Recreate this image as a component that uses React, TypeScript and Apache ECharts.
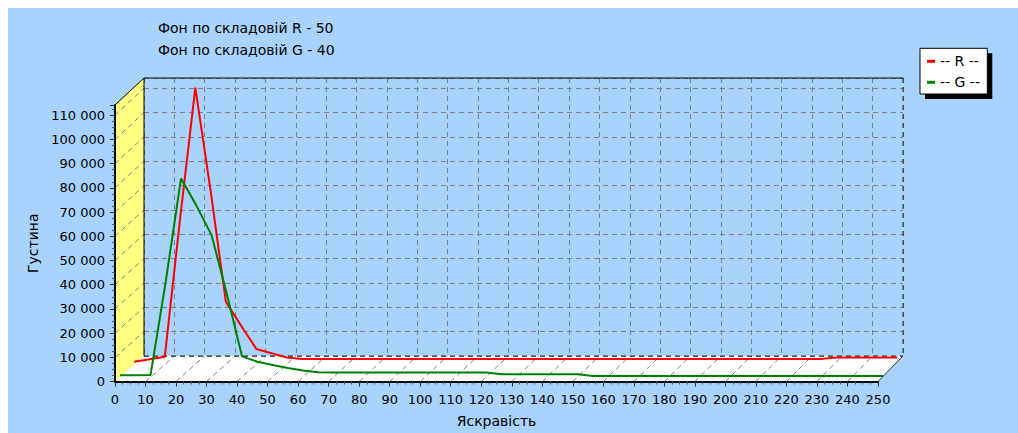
import React, { useEffect, useRef } from 'react';
import * as echarts from 'echarts';

// ---- data ----
const brightness = [
  0, 5, 10, 15, 20, 25, 30, 35, 40, 45, 50, 55, 60, 65, 70, 75, 80, 85, 90, 95,
  100, 105, 110, 115, 120, 125, 130, 135, 140, 145, 150, 155, 160, 165, 170, 175, 180, 185, 190, 195,
  200, 205, 210, 215, 220, 225, 230, 235, 240, 245, 250,
];
const densityR = [
  1000, 2000, 3100, 60000, 114200, 71700, 25800, 15900, 6300, 4550, 2750, 2150, 2100, 2100, 2100, 2100, 2100, 2100, 2100, 2100,
  2100, 2100, 2100, 2100, 2100, 2100, 2100, 2100, 2100, 2100, 2100, 2100, 2100, 2100, 2100, 2100, 2100, 2100, 2100, 2100,
  2100, 2100, 2100, 2100, 2100, 2100, 2800, 2800, 2800, 2800, 2800,
];
const densityG = [
  700, 700, 800, 39500, 82000, 70900, 58600, 34300, 8500, 6300, 4950, 3700, 2700, 1950, 1850, 1850, 1850, 1850, 1850, 1850,
  1850, 1850, 1850, 1850, 1850, 1100, 1100, 1100, 1100, 1100, 1100, 400, 400, 400, 400, 400, 400, 400, 400, 400,
  400, 400, 400, 400, 400, 400, 400, 400, 400, 400, 400,
];
const seriesNames = ['-- R --', '-- G --'];
const titleLines = ['Фон по складовій R - 50', 'Фон по складовій G - 40'];
const xAxisName = 'Яскравість';
const yAxisName = 'Густина';
const xMax = 250;
const xStep = 10;
const yMax = 114200;
const yStep = 10000;

// ---- layout / style ----
const BG = '#A8D3FC';
const WALL = '#FFFF80';
const GRID_GRAY = '#808080';
const FONT = '"DejaVu Sans", Verdana, sans-serif';
const DASH = [5, 4];

const BACK = { left: 136, top: 70, width: 759, height: 278 };
const FRONT = { left: 107, top: 97, width: 763, height: 276.5 };
const RED_PLANE = { left: 126.3, top: 79.7, width: 763, height: 276.5 };
const GREEN_PLANE = { left: 112, top: 92.5, width: 763, height: 276.5 };

const fmtThousands = (v: number) =>
  v % yStep === 0 ? String(v).replace(/\B(?=(\d{3})+(?!\d))/g, ' ') : '';

function hiddenAxis(gridIndex: number, max: number) {
  return {
    type: 'value', gridIndex, min: 0, max,
    show: false,
    axisLine: { show: false }, axisTick: { show: false }, axisLabel: { show: false },
    splitLine: { show: false },
  };
}

export default function App() {
  const ref = useRef<HTMLDivElement>(null);

  useEffect(() => {
    if (!ref.current) return;
    const chart = echarts.init(ref.current, undefined, { renderer: 'svg' });

    const option: any = {
      animation: false,
      backgroundColor: BG,
      grid: [
        { ...BACK },
        { ...FRONT },
        { ...RED_PLANE },
        { ...GREEN_PLANE },
      ],
      xAxis: [
        {
          type: 'value', gridIndex: 0, min: 0, max: xMax, interval: xStep,
          axisLine: { show: false }, axisTick: { show: false }, axisLabel: { show: false },
          splitLine: { show: true, lineStyle: { color: GRID_GRAY, type: DASH, width: 1 } },
        },
        {
          type: 'value', gridIndex: 1, min: 0, max: xMax, interval: xStep,
          axisLine: { show: true, onZero: false, lineStyle: { color: '#000', width: 2 } },
          axisTick: { show: true, length: 5, lineStyle: { color: '#333' } },
          minorTick: { show: true, splitNumber: 4, length: 3, lineStyle: { color: '#555' } },
          axisLabel: { show: true, margin: 11, color: '#000', fontSize: 13, fontFamily: FONT },
          splitLine: { show: false },
          name: xAxisName, nameLocation: 'middle', nameGap: 32,
          nameTextStyle: { color: '#000', fontSize: 14, fontFamily: FONT },
        },
        hiddenAxis(2, xMax),
        hiddenAxis(3, xMax),
      ],
      yAxis: [
        {
          type: 'value', gridIndex: 0, min: 0, max: yMax, interval: yStep,
          axisLine: { show: false }, axisTick: { show: false }, axisLabel: { show: false },
          splitLine: { show: true, lineStyle: { color: GRID_GRAY, type: DASH, width: 1 } },
        },
        {
          type: 'value', gridIndex: 1, min: 0, max: yMax, interval: yStep,
          axisLine: { show: true, onZero: false, lineStyle: { color: '#000', width: 2 } },
          axisTick: { show: true, length: 5, lineStyle: { color: '#333' } },
          minorTick: { show: true, splitNumber: 4, length: 3, lineStyle: { color: '#555' } },
          axisLabel: { show: true, margin: 10, color: '#000', fontSize: 13, fontFamily: FONT, formatter: fmtThousands },
          splitLine: { show: false },
          name: yAxisName, nameLocation: 'middle', nameGap: 72,
          nameTextStyle: { color: '#000', fontSize: 14, fontFamily: FONT },
        },
        hiddenAxis(2, yMax),
        hiddenAxis(3, yMax),
      ],
      legend: {
        data: seriesNames,
        orient: 'vertical',
        left: 912, top: 40.3,
        padding: [5, 7, 3, 7],
        itemGap: 5,
        itemWidth: 8, itemHeight: 3,
        icon: 'rect',
        selectedMode: false,
        z: 10,
        textStyle: { color: '#000', fontSize: 14, fontFamily: FONT, lineHeight: 16 },
      },
      series: [
        {
          type: 'line', name: seriesNames[0], xAxisIndex: 2, yAxisIndex: 2,
          data: brightness.map((b, i) => [b, densityR[i]]),
          symbol: 'none', showSymbol: false,
          lineStyle: { color: '#FF0000', width: 2 }, itemStyle: { color: '#FF0000' },
          z: 3,
        },
        {
          type: 'line', name: seriesNames[1], xAxisIndex: 3, yAxisIndex: 3,
          data: brightness.map((b, i) => [b, densityG[i]]),
          symbol: 'none', showSymbol: false,
          lineStyle: { color: '#008000', width: 2 }, itemStyle: { color: '#008000' },
          z: 4,
        },
      ],
    };
    chart.setOption(option);

    // ---- 3D decorations computed from the axes ----
    const Fb = FRONT.top + FRONT.height;
    const Bb = BACK.top + BACK.height;
    const Fr = FRONT.left + FRONT.width;
    const Br = BACK.left + BACK.width;
    const els: any[] = [];

    els.push({
      type: 'polygon', z: -10, silent: true,
      shape: { points: [[FRONT.left, FRONT.top], [BACK.left, BACK.top], [BACK.left, Bb], [FRONT.left, Fb]] },
      style: { fill: WALL },
    });
    els.push({
      type: 'polygon', z: -10, silent: true,
      shape: { points: [[FRONT.left, Fb], [BACK.left, Bb], [Br, Bb], [Fr, Fb]] },
      style: { fill: '#FFFFFF' },
    });

    for (let v = xStep; v < xMax; v += xStep) {
      const xf = chart.convertToPixel({ xAxisIndex: 1 } as any, v) as number;
      const xb = chart.convertToPixel({ xAxisIndex: 0 } as any, v) as number;
      els.push({
        type: 'line', z: -5, silent: true,
        shape: { x1: xf, y1: Fb, x2: xb, y2: Bb },
        style: { stroke: GRID_GRAY, lineWidth: 1, lineDash: DASH },
      });
    }
    for (let v = yStep; v <= yMax; v += yStep) {
      const yf = chart.convertToPixel({ yAxisIndex: 1 } as any, v) as number;
      const yb = chart.convertToPixel({ yAxisIndex: 0 } as any, v) as number;
      els.push({
        type: 'line', z: -5, silent: true,
        shape: { x1: FRONT.left, y1: yf, x2: BACK.left, y2: yb },
        style: { stroke: GRID_GRAY, lineWidth: 1, lineDash: DASH },
      });
    }

    // edges
    const solid = { stroke: '#000', lineWidth: 1 };
    const dashed = { stroke: '#222', lineWidth: 1, lineDash: DASH };
    els.push({ type: 'line', z: 1, silent: true, shape: { x1: FRONT.left, y1: FRONT.top, x2: BACK.left, y2: BACK.top }, style: solid });
    els.push({ type: 'line', z: 1, silent: true, shape: { x1: BACK.left, y1: BACK.top, x2: Br, y2: BACK.top }, style: solid });
    els.push({ type: 'line', z: 1, silent: true, shape: { x1: BACK.left, y1: BACK.top, x2: BACK.left, y2: Bb }, style: solid });
    els.push({ type: 'line', z: 1, silent: true, shape: { x1: Br, y1: BACK.top, x2: Br, y2: Bb }, style: dashed });
    els.push({ type: 'line', z: 1, silent: true, shape: { x1: BACK.left, y1: Bb, x2: Br, y2: Bb }, style: dashed });
    els.push({ type: 'line', z: 1, silent: true, shape: { x1: Fr, y1: Fb, x2: Br, y2: Bb }, style: { stroke: '#333', lineWidth: 1 } });

    // titles
    titleLines.forEach((t, i) => {
      els.push({
        type: 'text', z: 5, silent: true, x: 150, y: 20 + i * 22,
        style: { text: t, fill: '#000', fontSize: 14, fontFamily: FONT, align: 'left', verticalAlign: 'middle' },
      });
    });

    // legend box with shadow
    els.push({ type: 'rect', z: 8, silent: true, shape: { x: 917, y: 45.3, width: 67.3, height: 45.7 }, style: { fill: '#000' } });
    els.push({ type: 'rect', z: 9, silent: true, shape: { x: 912, y: 40.3, width: 67.3, height: 45.7 }, style: { fill: '#FFFFFF', stroke: '#000', lineWidth: 1 } });

    chart.setOption({ graphic: { elements: els } });

    return () => chart.dispose();
  }, []);

  return <div ref={ref} style={{ position: 'absolute', left: 8, top: 8, width: 1010, height: 425 }} />;
}
